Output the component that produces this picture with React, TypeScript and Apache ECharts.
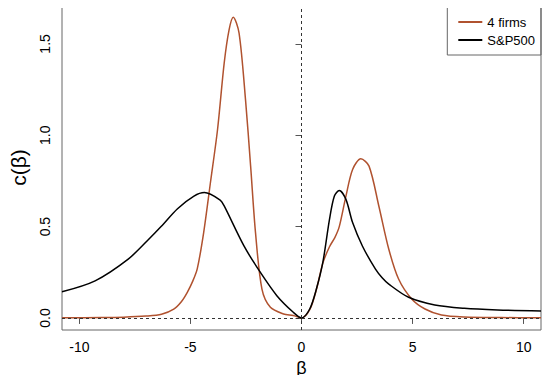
import React, { useEffect, useRef } from "react";
import * as echarts from "echarts";

const xTicks = [-10, -5, 0, 5, 10];
const yTicks = [0, 0.5, 1.0, 1.5];

const firmsX = [-10.78, -9, -8, -7, -6.3, -5.75, -5.4, -5.14, -4.9, -4.69, -4.4, -4.1, -3.78, -3.48, -3.26, -3.07, -2.81, -2.52, -2.29, -2.07, -1.78, -1.4, -0.81, -0.37, 0, 0.37, 0.67, 0.96, 1.26, 1.5, 1.7, 2.0, 2.3, 2.67, 3.04, 3.48, 3.93, 4.37, 4.96, 5.56, 6.3, 7.33, 9, 10.78];
const firmsY = [0.001, 0.002, 0.004, 0.01, 0.02, 0.048, 0.09, 0.14, 0.2, 0.27, 0.47, 0.74, 1.03, 1.395, 1.577, 1.646, 1.559, 1.195, 0.831, 0.467, 0.158, 0.058, 0.022, 0.013, 0.0, 0.045, 0.155, 0.3, 0.39, 0.44, 0.5, 0.667, 0.813, 0.871, 0.831, 0.613, 0.376, 0.213, 0.104, 0.049, 0.016, 0.005, 0.002, 0.001];

const spX = [-10.78, -9.29, -7.8, -6.92, -6.32, -5.58, -4.84, -4.37, -3.66, -3.48, -2.59, -1.85, -1.11, -0.37, 0, 0.37, 0.67, 0.96, 1.26, 1.48, 1.7, 2.0, 2.3, 2.74, 3.33, 3.63, 3.93, 4.82, 6.0, 7.33, 8.82, 10.78];
const spY = [0.143, 0.203, 0.322, 0.425, 0.5, 0.598, 0.667, 0.686, 0.645, 0.613, 0.394, 0.249, 0.122, 0.031, 0.0, 0.049, 0.158, 0.304, 0.54, 0.667, 0.698, 0.649, 0.522, 0.394, 0.267, 0.22, 0.185, 0.113, 0.071, 0.053, 0.044, 0.038];

const FONT = "'Liberation Sans', Arial, sans-serif";

export default function App() {
  const ref = useRef<HTMLDivElement>(null);
  useEffect(() => {
    if (!ref.current) return;
    const chart = echarts.init(ref.current, null, { renderer: "svg" });
    chart.setOption({
      animation: false,
      backgroundColor: "#ffffff",
      textStyle: { fontFamily: FONT },
      grid: {
        left: 56,
        right: 9,
        top: 5,
        bottom: 53,
        show: true,
        borderColor: "#666",
        borderWidth: 1,
        backgroundColor: "transparent",
      },
      legend: {
        orient: "vertical",
        right: 9,
        top: 5,
        icon: "rect",
        itemWidth: 24,
        itemHeight: 2,
        itemGap: 4,
        padding: [10, 6, 8, 11],
        borderColor: "#666",
        borderWidth: 1,
        borderRadius: 0,
        textStyle: { fontSize: 13, color: "#000", fontFamily: FONT, lineHeight: 14 },
        data: ["4 firms", "S&P500"],
      },
      xAxis: {
        type: "value",
        min: -10.78,
        max: 10.78,
        name: "β",
        nameLocation: "middle",
        nameGap: 21,
        nameTextStyle: { fontSize: 18, color: "#000", fontFamily: FONT },
        axisLine: { show: false },
        splitLine: { show: false },
        axisTick: { show: true, length: 6, customValues: xTicks, lineStyle: { color: "#555" } },
        axisLabel: {
          customValues: xTicks,
          fontSize: 14,
          color: "#000",
          margin: 10,
          fontFamily: FONT,
        },
      },
      yAxis: {
        type: "value",
        min: -0.066,
        max: 1.713,
        name: "c(β)",
        nameLocation: "middle",
        nameGap: 33,
        nameRotate: 90,
        nameTextStyle: { fontSize: 21, color: "#000", fontFamily: FONT },
        axisLine: { show: false },
        splitLine: { show: false },
        axisTick: { show: true, length: 6, customValues: yTicks, lineStyle: { color: "#555" } },
        axisLabel: {
          customValues: yTicks,
          rotate: 90,
          fontSize: 14,
          color: "#000",
          margin: 10,
          fontFamily: FONT,
          formatter: (v: number) => v.toFixed(1),
        },
      },
      series: [
        {
          name: "4 firms",
          type: "line",
          data: firmsX.map((x, i) => [x, firmsY[i]]),
          showSymbol: false,
          smooth: 0.3,
          lineStyle: { color: "#b0522f", width: 1.5 },
          itemStyle: { color: "#b0522f" },
          markLine: {
            silent: true,
            symbol: "none",
            label: { show: false },
            lineStyle: { color: "#333", type: [3, 3], width: 1 },
            data: [{ xAxis: 0 }, { yAxis: 0 }],
          },
        },
        {
          name: "S&P500",
          type: "line",
          data: spX.map((x, i) => [x, spY[i]]),
          showSymbol: false,
          smooth: 0.3,
          lineStyle: { color: "#000", width: 1.5 },
          itemStyle: { color: "#000" },
        },
      ],
    });
    return () => chart.dispose();
  }, []);
  return <div ref={ref} style={{ width: 550, height: 383, margin: -8 }} />;
}
